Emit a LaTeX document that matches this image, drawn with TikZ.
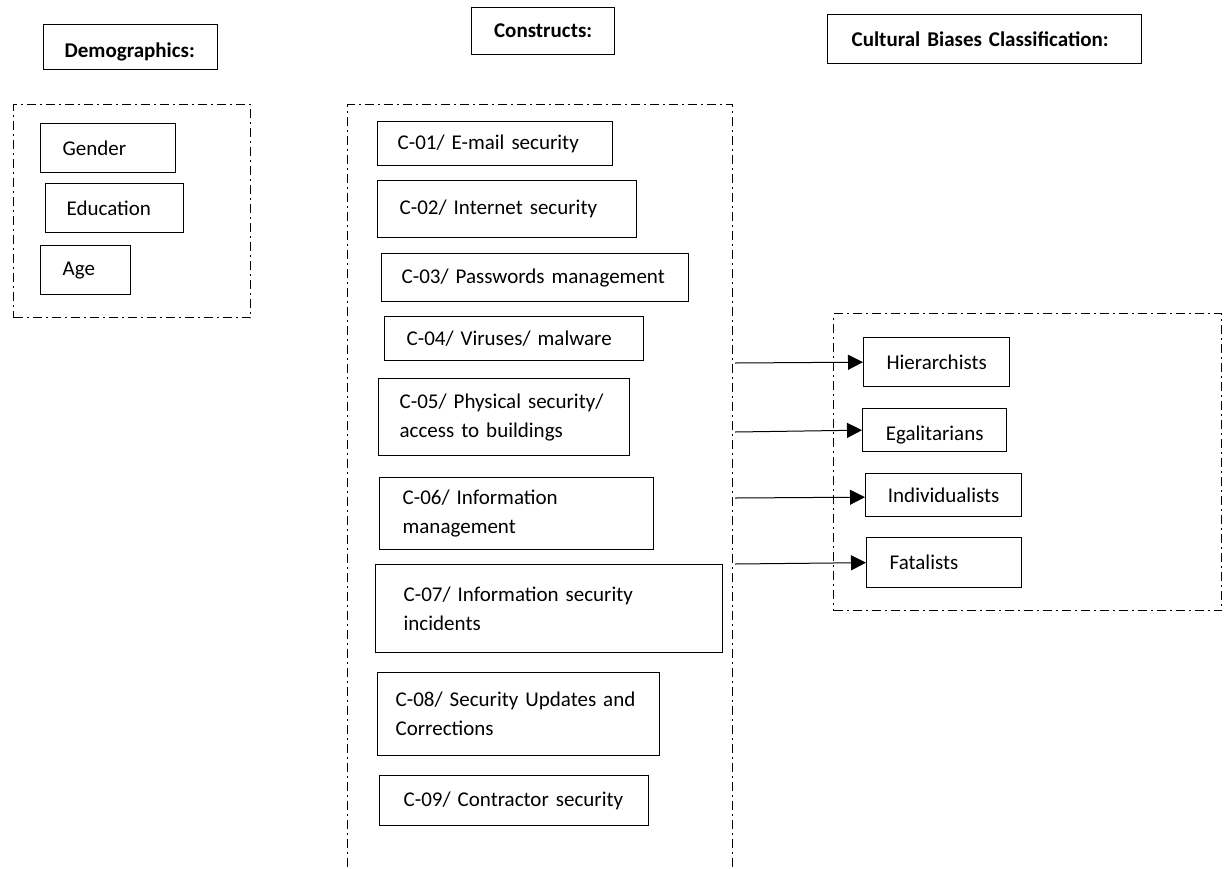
\documentclass[tikz,border=0pt]{standalone}
\usepackage{fontspec}
\setmainfont{Carlito}
\usetikzlibrary{arrows.meta,positioning}
\hyphenpenalty=10000
\exhyphenpenalty=10000

\begin{document}
\begin{tikzpicture}[x=0.5pt,y=-0.5pt,
        cbox/.style={draw,line width=0.65pt,anchor=north west,inner ysep=0pt,align=left,
            font=\fontsize{10.5}{14.5}\selectfont},
        gframe/.style={draw,line width=0.65pt,dash pattern=on 4.5pt off 2pt on 1pt off 2pt,
            anchor=north west,inner sep=0pt},
        tolink/.style={-{Triangle[length=7.5pt,width=7.5pt]},line width=0.5pt}]
        \useasboundingbox (0,0) rectangle (1224,868);
        \clip (0,0) rectangle (1224,868);

        % group frames
        \node [gframe,minimum width=118.5pt,minimum height=106.5pt] (demoframe) at (13,104) {};
        \node [gframe,minimum width=192.5pt,minimum height=388pt] (consframe) at (347,104) {};
        \node [gframe,minimum width=194pt,minimum height=148.5pt] (cultframe) at (833,313) {};

        % headers
        \node [cbox,inner xsep=10.5pt,text width=66pt,minimum height=22.5pt,text height=12.8pt,text depth=2.2pt] (demo) at (43,24) {\textbf{Demographics:}};
        \node [cbox,inner xsep=4pt,text width=63.5pt,align=center,minimum height=23.5pt] (cons) at (471,7) {\textbf{Constructs:}};
        \node [cbox,inner xsep=12pt,text width=133pt,minimum height=24.5pt] (cult) at (827,14) {\textbf{Cultural Biases Classification:}};

        % demographics
        \node [cbox,inner xsep=11pt,text width=45.5pt,minimum height=24.5pt] (gender) at (40,123) {Gender};
        \node [cbox,inner xsep=10.5pt,text width=48pt,minimum height=24.5pt] (edu) at (45,183) {Education};
        \node [cbox,inner xsep=11pt,text width=23pt,minimum height=24.5pt] (age) at (40,245) {Age};

        % constructs
        \node [cbox,inner xsep=10pt,text width=97.5pt,minimum height=22pt] (c01) at (377,121) {C-01/ E-mail security};
        \node [cbox,inner xsep=11pt,text width=107.5pt,minimum height=28.5pt] (c02) at (377,180) {C-02/ Internet security};
        \node [cbox,inner xsep=10pt,text width=133.5pt,minimum height=24pt] (c03) at (381,253) {C-03/ Passwords management};
        \node [cbox,inner xsep=11pt,text width=107.5pt,minimum height=22pt] (c04) at (384,316) {C-04/ Viruses/ malware};
        \node [cbox,inner xsep=10.5pt,text width=104.5pt,minimum height=38.5pt] (c05) at (378,378) {C-05/ Physical security/\\access to buildings};
        \node [cbox,inner xsep=11.5pt,text width=114pt,minimum height=36pt] (c06) at (379,477) {C-06/ Information\\management};
        \node [cbox,inner xsep=14pt,text width=145.5pt,minimum height=44pt] (c07) at (375,564) {C-07/ Information security\\incidents};
        \node [cbox,inner xsep=9pt,text width=123pt,minimum height=41.5pt] (c08) at (377,672) {C-08/ Security Updates and\\Corrections};
        \node [cbox,inner xsep=12pt,text width=110.5pt,minimum height=25pt] (c09) at (379,775) {C-09/ Contractor security};

        % cultural biases
        \node [cbox,minimum width=73pt,minimum height=24.5pt] (hier) at (863,337) {Hierarchists};
        \node [cbox,minimum width=72pt,minimum height=21.5pt,text height=12.7pt,text depth=2.2pt] (egal) at (862,408) {Egalitarians};
        \node [cbox,minimum width=78pt,minimum height=21.5pt] (indiv) at (865,473) {Individualists};
        \node [cbox,inner xsep=11.5pt,text width=54.5pt,minimum height=25pt] (fatal) at (866,537) {Fatalists};

        \coordinate (s1) at (735,363);
        \coordinate (s2) at (735,432);
        \coordinate (s3) at (735,498);
        \coordinate (s4) at (735,564);

        \path [tolink] (s1) edge (hier.west);
        \path [tolink] (s2) edge (egal.west);
        \path [tolink] (s3) edge ([yshift=-1pt]indiv.west);
        \path [tolink] (s4) edge (fatal.west);
    \end{tikzpicture}
\end{document}
